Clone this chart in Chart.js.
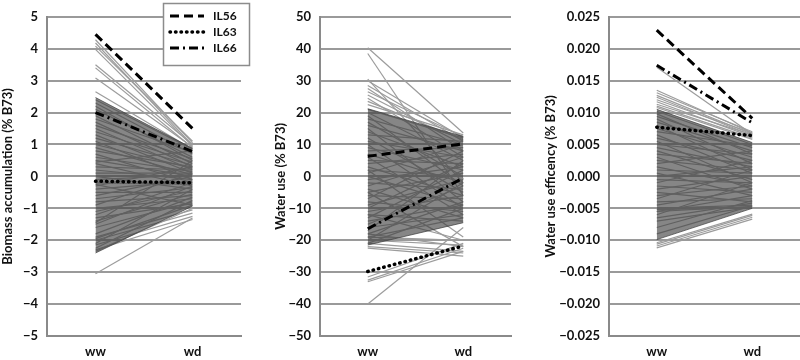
<!DOCTYPE html>
<html><head><meta charset="utf-8">
<script src="https://cdn.jsdelivr.net/npm/chart.js@4"></script>
<style>
html,body{margin:0;padding:0;background:#fff;width:800px;height:360px;overflow:hidden;}
canvas{position:absolute;top:0;}
</style></head><body>
<canvas id="c1" width="252" height="360" style="left:0px;width:252px;height:360px"></canvas>
<canvas id="c2" width="258" height="360" style="left:254px;width:258px;height:360px"></canvas>
<canvas id="c3" width="280" height="360" style="left:520px;width:280px;height:360px"></canvas>
<script>
const categories = ['ww', 'wd'];

// ---------- Panel 1: Biomass accumulation ----------
const bioTicks = [-5, -4, -3, -2, -1, 0, 1, 2, 3, 4, 5];
const bioTickLabels = ['−5', '−4', '−3', '−2', '−1', '0', '1', '2', '3', '4', '5'];
const bioIL56 = [4.45, 1.5];
const bioIL63 = [-0.15, -0.2];
const bioIL66 = [2.0, 0.78];
const bioBandTop = [2.47, 0.88];
const bioBandBottom = [-2.4, -0.93];
const bioWW = [4.28, 4.18, 4.08, 3.98, 3.5, 3.4, 3.08, 2.65,
  -3.05, -2.3, -2.15, -2.0, -1.9, -2.35,
  2.4, 2.3, 2.2, 2.1, 1.9, 1.8, 1.7, 1.6, 1.5, 1.4, 1.3, 1.2, 1.1, 1.0, 0.9, 0.8, 0.7, 0.6, 0.5, 0.4, 0.3, 0.2, 0.1, 0.0,
  -0.1, -0.2, -0.3, -0.4, -0.5, -0.6, -0.7, -0.8, -0.9, -1.0, -1.1, -1.2, -1.3, -1.4, -1.5, -1.6, -1.8, -1.95, -2.1, -2.25, -0.25, 0.45, -1.45];
const bioWD = [1.05, 0.98, 1.1, 0.95, 1.0, 0.9, 0.92, 0.85,
  -1.3, -1.35, -1.25, -1.15, -1.05, -1.0,
  0.85, 0.7, 0.5, 0.6, 0.4, 0.75, 0.3, 0.55, 0.2, 0.45, 0.1, 0.35, -0.1, 0.25, 0.05, 0.3, -0.2, 0.15, 0.0, -0.3, 0.2, -0.1, 0.1, -0.4,
  0.05, -0.25, 0.3, -0.15, -0.5, 0.0, -0.35, -0.6, 0.1, -0.7, -0.45, -0.2, -0.85, -0.55, -0.3, -0.8, -0.65, -0.9, -0.4, -0.75, -0.9, 0.8, 0.5];

// ---------- Panel 2: Water use ----------
const wuTicks = [-50, -40, -30, -20, -10, 0, 10, 20, 30, 40, 50];
const wuTickLabels = ['−50', '−40', '−30', '−20', '−10', '0', '10', '20', '30', '40', '50'];
const wuIL56 = [6.3, 10.2];
const wuIL63 = [-29.8, -21.8];
const wuIL66 = [-16.4, -0.5];
const wuBandTop = [21.2, 12.5];
const wuBandBottom = [-21.5, -14.5];
const wuWW = [40.3, 38.5, 30.5, 30, 28.5, 27.5, 26.5, 25.5, 24.5, 23.5, 22.5,
  -40, -32.5, -33, -31.5, -22.5, -22, -21, -20, -19, -18, -12, -5, 2,
  21, 20, 19, 18, 17, 16, 15, 14, 13, 12, 11, 10, 9, 8, 7, 6, 5, 4, 3, 2, 1, 0,
  -1, -2, -3, -4, -5, -6, -7, -8, -9, -10, -11, -12, -13, -14, -15, -16, -17, -18, -19, -20, -21];
const wuWD = [13.6, -6, -2, 12, 11, 8, 12.5, 10, 6, 11.5, 13,
  -16, -22.5, -23.5, -21, -25, -24, -23.5, -21.5, -20, -22, -20, -22, -19,
  12, 5, -3, 10, 0, 8, -8, 3, 11, -5, 6, -10, 2, 9, -2, -12, 4, 7, -6, 0, 10, -9,
  3, -4, 6, -13, 1, -7, 8, -11, -1, 4, -6, -14, 2, -9, -3, -12, 5, -8, -13, -2, -10];

// ---------- Panel 3: Water use efficency ----------
const wueTicks = [-0.025, -0.02, -0.015, -0.01, -0.005, 0, 0.005, 0.01, 0.015, 0.02, 0.025];
const wueTickLabels = ['−0.025', '−0.020', '−0.015', '−0.010', '−0.005', '0.000', '0.005', '0.010', '0.015', '0.020', '0.025'];
const wueIL56 = [0.0229, 0.0091];
const wueIL63 = [0.0077, 0.0064];
const wueIL66 = [0.0174, 0.0084];
const wueBandTop = [0.0105, 0.0053];
const wueBandBottom = [-0.0099, -0.005];
const wueWW = [0.0171, 0.0135, 0.0131, 0.0127, 0.0124, 0.012, 0.0117, 0.0113, 0.011, 0.0108,
  -0.0112, -0.0109, -0.0106, -0.0104,
  0.0102, 0.0098, 0.0094, 0.009, 0.0085, 0.008, 0.0075, 0.007, 0.0065, 0.006, 0.0055, 0.005, 0.0045, 0.004, 0.0035, 0.003,
  0.0025, 0.002, 0.0015, 0.001, 0.0005, 0.0, -0.0005, -0.001, -0.0015, -0.002, -0.0025, -0.003, -0.0035, -0.004, -0.0045,
  -0.005, -0.0055, -0.006, -0.0065, -0.007, -0.008, -0.009, -0.0055, -0.0052];
const wueWD = [0.0066, 0.0068, 0.007, 0.0066, 0.0064, 0.0068, 0.0062, 0.0065, 0.006, 0.0058,
  -0.0067, -0.0064, -0.0061, -0.0059,
  0.005, 0.0035, 0.0045, 0.002, 0.004, 0.001, 0.003, 0.0048, 0.0005, 0.0025, -0.001, 0.0035, 0.0015, -0.0005, 0.002, -0.002,
  0.001, 0.004, -0.0015, 0.0005, -0.003, 0.0015, -0.001, 0.0025, -0.0025, 0.0, -0.004, -0.0015, 0.001, -0.0035, -0.002,
  -0.0045, -0.003, -0.001, -0.0042, -0.0048, -0.0038, -0.0046, -0.0047, -0.0049];

const FONT = 'Lato';

const keyLegend = {
  id: 'keyLegend',
  afterDraw(chart) {
    const ctx = chart.ctx;
    ctx.save();
    ctx.fillStyle = '#fff';
    ctx.fillRect(163.5, 3.5, 86, 62);
    ctx.strokeStyle = '#8c8c8c';
    ctx.lineWidth = 1.5;
    ctx.strokeRect(163.5, 3.5, 86, 62);
    const keys = chart.data.datasets.filter(d => d.isKey);
    keys.forEach((d, i) => {
      const y = 16 + i * 16;
      ctx.setLineDash(d.borderDash);
      ctx.lineCap = d.borderCapStyle;
      ctx.lineWidth = d.borderWidth;
      ctx.strokeStyle = '#000';
      ctx.beginPath();
      ctx.moveTo(170, y);
      ctx.lineTo(204, y);
      ctx.stroke();
      ctx.setLineDash([]);
      ctx.fillStyle = '#111';
      ctx.font = 'bold 12px ' + FONT;
      ctx.textBaseline = 'middle';
      ctx.textAlign = 'left';
      ctx.fillText(d.label, 213, y);
    });
    ctx.restore();
  }
};

function buildChart(id, p) {
  const datasets = [];
  const keys = [
    { label: 'IL56', data: p.il56, borderDash: [9, 5], borderWidth: 3, cap: 'butt' },
    { label: 'IL63', data: p.il63, borderDash: [0.5, 5], borderWidth: 3.5, cap: 'round' },
    { label: 'IL66', data: p.il66, borderDash: [9, 4, 2, 4], borderWidth: 3, cap: 'butt' }
  ];
  keys.forEach(k => datasets.push({
    label: k.label, data: k.data, borderColor: '#000', borderWidth: k.borderWidth,
    borderDash: k.borderDash, borderCapStyle: k.cap, pointRadius: 0, fill: false, order: -2, isKey: true
  }));
  datasets.push({ label: 'bandTop', data: p.bandTop, borderColor: 'rgba(60,60,60,0.7)', borderWidth: 1,
    backgroundColor: 'rgba(60,60,60,0.62)', fill: '+1', pointRadius: 0, order: -1 });
  datasets.push({ label: 'bandBottom', data: p.bandBottom, borderColor: 'rgba(60,60,60,0.7)', borderWidth: 1,
    fill: false, pointRadius: 0, order: -1 });
  p.ww.forEach((v, i) => datasets.push({
    data: [v, p.wd[i]], borderColor: '#9c9c9c', borderWidth: 1.2, pointRadius: 0, fill: false, order: 0
  }));

  return new Chart(document.getElementById(id), {
    type: 'line',
    data: { labels: categories, datasets },
    plugins: p.legend ? [keyLegend] : [],
    options: {
      responsive: false,
      animation: false,
      devicePixelRatio: 1,
      layout: { padding: { top: 7, right: p.padRight, bottom: 0, left: 0 } },
      plugins: { legend: { display: false }, tooltip: { enabled: false } },
      scales: {
        x: {
          type: 'category', offset: true,
          grid: { display: false, drawTicks: false },
          border: { display: true, color: '#8a8a8a', width: 2 },
          ticks: { padding: 8, color: '#111', font: { family: FONT, weight: 'bold', size: 13 } },
          afterFit: s => { s.height = 24; }
        },
        y: {
          min: p.ticks[0], max: p.ticks[p.ticks.length - 1],
          afterBuildTicks: s => { s.ticks = p.ticks.map(v => ({ value: v })); },
          ticks: {
            padding: 9, color: '#111', autoSkip: false,
            font: { family: FONT, weight: 'bold', size: 13 },
            callback: (v) => p.tickLabels[p.ticks.indexOf(v)]
          },
          grid: { color: '#9a9a9a', lineWidth: 2, drawTicks: false },
          border: { color: '#8a8a8a', width: 2 },
          title: { display: true, text: p.title, color: '#111', padding: { top: p.titlePad, bottom: 0 },
            font: { family: FONT, weight: 'bold', size: 13 } },
          afterFit: s => { s.width = p.axisW; }
        }
      }
    }
  });
}

buildChart('c1', { il56: bioIL56, il63: bioIL63, il66: bioIL66, bandTop: bioBandTop, bandBottom: bioBandBottom,
  ww: bioWW, wd: bioWD, ticks: bioTicks, tickLabels: bioTickLabels, title: 'Biomass accumulation (% B73)',
  axisW: 47, titlePad: 0, padRight: 11, legend: true });
buildChart('c2', { il56: wuIL56, il63: wuIL63, il66: wuIL66, bandTop: wuBandTop, bandBottom: wuBandBottom,
  ww: wuWW, wd: wuWD, ticks: wuTicks, tickLabels: wuTickLabels, title: 'Water use (% B73)',
  axisW: 66, titlePad: 19, padRight: 1, legend: false });
buildChart('c3', { il56: wueIL56, il63: wueIL63, il66: wueIL66, bandTop: wueBandTop, bandBottom: wueBandBottom,
  ww: wueWW, wd: wueWD, ticks: wueTicks, tickLabels: wueTickLabels, title: 'Water use efficency (% B73)',
  axisW: 89, titlePad: 23, padRight: 0, legend: false });
</script>
</body></html>
